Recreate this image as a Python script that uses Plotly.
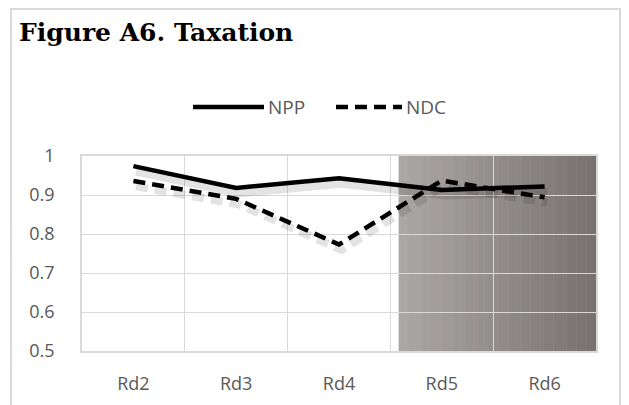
import plotly.graph_objects as go

categories = ["Rd2", "Rd3", "Rd4", "Rd5", "Rd6"]
npp = [0.974, 0.918, 0.943, 0.913, 0.922]
ndc = [0.936, 0.890, 0.773, 0.937, 0.894]
y_ticks = [0.5, 0.6, 0.7, 0.8, 0.9, 1.0]
y_ticktext = ["0.5", "0.6", "0.7", "0.8", "0.9", "1"]
title_text = "Figure A6. Taxation"
series_names = ["NPP", "NDC"]

W, H = 629, 405
L, R, T, B = 82, 596, 156, 351  # plot area in pixels


def px(x):
    return (x - L) / (R - L)


def py(y):
    return (B - y) / (B - T)


fig = go.Figure()

# soft shadow traces on offset axes
fig.add_trace(go.Scatter(x=categories, y=npp, mode="lines", xaxis="x2", yaxis="y2",
                         line=dict(color="rgba(0,0,0,0.11)", width=8), hoverinfo="skip",
                         showlegend=False))
fig.add_trace(go.Scatter(x=categories, y=ndc, mode="lines", xaxis="x2", yaxis="y2",
                         line=dict(color="rgba(0,0,0,0.11)", width=8, dash="12px,7px"),
                         hoverinfo="skip", showlegend=False))

fig.add_trace(go.Scatter(x=categories, y=npp, mode="lines", name=series_names[0],
                         line=dict(color="black", width=4.5), showlegend=False))
fig.add_trace(go.Scatter(x=categories, y=ndc, mode="lines", name=series_names[1],
                         line=dict(color="black", width=4.5, dash="12px,7px"), showlegend=False))

shapes = []
# gradient shaded region (Rd5-Rd6)
n = 60
x_start, x_end = 2.58, 4.5
c0 = (171, 167, 165)
c1 = (119, 114, 111)
for i in range(n):
    t = i / (n - 1)
    c = tuple(round(c0[k] + (c1[k] - c0[k]) * t) for k in range(3))
    xa = x_start + (x_end - x_start) * i / n
    xb = x_start + (x_end - x_start) * (i + 1) / n + 0.005
    shapes.append(dict(type="rect", xref="x", yref="paper", x0=xa, x1=min(xb, x_end),
                       y0=0, y1=1, fillcolor="rgb(%d,%d,%d)" % c, line=dict(width=0),
                       layer="below"))

# outer chart border
shapes.append(dict(type="rect", xref="paper", yref="paper", x0=px(11), x1=px(620),
                   y0=py(420), y1=py(9), line=dict(color="#d9d9d9", width=2),
                   fillcolor="rgba(0,0,0,0)", layer="below"))

# legend symbols
shapes.append(dict(type="line", xref="paper", yref="paper", x0=px(193), x1=px(264),
                   y0=py(107), y1=py(107), line=dict(color="black", width=4.5)))
shapes.append(dict(type="line", xref="paper", yref="paper", x0=px(336), x1=px(402),
                   y0=py(107), y1=py(107), line=dict(color="black", width=4.5, dash="12px,7px")))

annotations = [
    dict(text="<b>" + title_text + "</b>", xref="paper", yref="paper", x=px(17), y=py(32),
         xanchor="left", yanchor="middle", showarrow=False,
         font=dict(family="DejaVu Serif", size=25, color="black")),
    dict(text=series_names[0], xref="paper", yref="paper", x=px(266), y=py(107),
         xanchor="left", yanchor="middle", showarrow=False,
         font=dict(family="Open Sans", size=19, color="#595959")),
    dict(text=series_names[1], xref="paper", yref="paper", x=px(404), y=py(107),
         xanchor="left", yanchor="middle", showarrow=False,
         font=dict(family="Open Sans", size=19, color="#595959")),
]

fig.update_layout(
    width=W, height=H,
    margin=dict(l=L, r=W - R, t=T, b=H - B, autoexpand=False),
    paper_bgcolor="white", plot_bgcolor="white",
    showlegend=False,
    shapes=shapes, annotations=annotations,
    xaxis=dict(type="category", categoryorder="array", categoryarray=categories,
               range=[-0.5, 4.5], tickson="boundaries", showgrid=True,
               gridcolor="#d9d9d9", gridwidth=1.3, ticks="", showline=True, mirror=True,
               linecolor="#d9d9d9", linewidth=1.5, automargin=False,
               tickfont=dict(family="Open Sans", size=18, color="#595959"),
               ticklabelstandoff=16, zeroline=False),
    yaxis=dict(range=[0.5, 1.0], tickvals=y_ticks, ticktext=y_ticktext, showgrid=True,
               gridcolor="#d9d9d9", gridwidth=1.3, ticks="", showline=True, mirror=True,
               linecolor="#d9d9d9", linewidth=1.5, zeroline=False, automargin=False,
               tickfont=dict(family="Open Sans", size=18, color="#595959"),
               ticklabelstandoff=22),
    xaxis2=dict(type="category", categoryorder="array", categoryarray=categories,
                range=[-0.5 - 0.025, 4.5 - 0.025], overlaying="x", visible=False),
    yaxis2=dict(range=[0.5 + 0.014, 1.0 + 0.014], overlaying="y", visible=False),
)

fig.write_html("out.html", config={"displayModeBar": False},
               post_script="document.body.style.margin='0';document.body.style.overflow='hidden';")
